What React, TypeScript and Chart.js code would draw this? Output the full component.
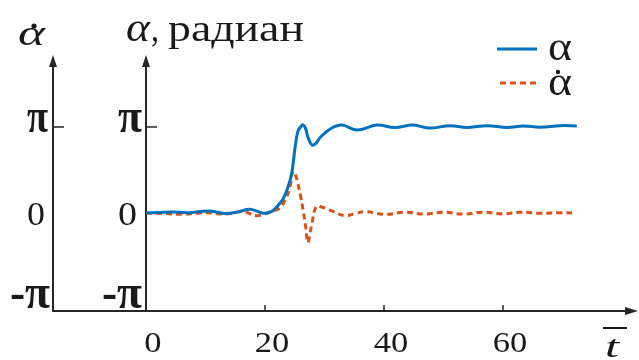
import React, { useEffect, useRef } from "react";
import { Chart, registerables } from "chart.js";

Chart.register(...registerables);

// ---- data ----
const tAlpha = [0, 2, 4.5, 7, 9, 10.8, 13.3, 15.5, 17.5, 19.7, 21, 22, 23, 23.8, 24.5, 25, 25.5, 26, 26.4, 26.8, 27.2, 27.9, 28.6, 29.2, 30.9, 32.9, 35.5, 38.8, 41.8, 44.9, 47.7, 51.1, 53.9, 57.3, 60.7, 63.4, 66.2, 69.6, 72.4];
const alpha = [0, 0.02, 0.04, 0.01, 0.05, 0.07, -0.02, 0.04, 0.14, -0.01, 0.04, 0.23, 0.5, 0.9, 1.46, 2.3, 2.96, 3.15, 3.22, 3.1, 2.78, 2.48, 2.55, 2.74, 3.06, 3.21, 3.03, 3.21, 3.12, 3.21, 3.1, 3.19, 3.12, 3.19, 3.12, 3.18, 3.13, 3.19, 3.18];

const tDot = [0, 3, 6.2, 8.5, 10.3, 13.3, 16.3, 18.7, 21.3, 22.3, 23.4, 24.2, 24.7, 25.1, 25.5, 26, 26.4, 26.8, 27.2, 27.6, 27.9, 28.6, 29.5, 30.4, 31.5, 33.4, 35.2, 36.8, 40.2, 43.5, 46.9, 49.9, 53.3, 56.6, 60, 62.9, 66.2, 69.6, 72.1];
const alphaDot = [0, -0.02, -0.05, -0.01, 0.01, -0.04, 0.05, -0.1, 0.08, 0.15, 0.47, 0.96, 1.52, 1.4, 1.1, 0.6, 0.11, -0.45, -1.08, -0.7, -0.37, 0.23, 0.22, 0.15, 0.05, -0.1, -0.02, 0.05, -0.05, 0.03, -0.04, 0.03, -0.04, 0.03, -0.03, 0.03, -0.01, 0.01, 0];

const xTicks = [0, 20, 40, 60];
const yTicks = [Math.PI, 0, -Math.PI];
const yTickLabels = ["π", "0", "-π"];
const seriesLabels = ["α", "α"];

const X_MIN = -15.63;
const X_MAX = 82.69;
const Y_MIN = -3.58;
const Y_MAX = 5.77;

const BLUE = "#0072BD";
const ORANGE = "#D95319";
const AXIS = "#262626";
const TEXT = "#1a1a1a";
const SERIF = '"Liberation Serif", "Times New Roman", serif';

function fitText(
  ctx: CanvasRenderingContext2D,
  text: string,
  x: number,
  baseline: number,
  font: string,
  width: number,
  align: "left" | "right" | "center"
) {
  ctx.save();
  ctx.font = font;
  ctx.fillStyle = TEXT;
  ctx.textBaseline = "alphabetic";
  ctx.textAlign = "left";
  const w = ctx.measureText(text).width || 1;
  const sx = width / w;
  let left = x;
  if (align === "right") left = x - width;
  if (align === "center") left = x - width / 2;
  ctx.translate(left, baseline);
  ctx.scale(sx, 1);
  ctx.fillText(text, 0, 0);
  ctx.restore();
}

function arrowUp(ctx: CanvasRenderingContext2D, x: number, bottom: number, top: number) {
  ctx.beginPath();
  ctx.moveTo(x, bottom);
  ctx.lineTo(x, top + 8);
  ctx.stroke();
  ctx.beginPath();
  ctx.moveTo(x, top);
  ctx.lineTo(x - 4, top + 12);
  ctx.lineTo(x + 4, top + 12);
  ctx.closePath();
  ctx.fill();
}

const axesPlugin = {
  id: "customAxes",
  beforeDatasetsDraw(chart: any) {
    const ctx: CanvasRenderingContext2D = chart.ctx;
    const { left, right, top, bottom } = chart.chartArea;
    const xs = chart.scales.x;
    const ys = chart.scales.y;
    const x0 = xs.getPixelForValue(0);
    ctx.save();
    ctx.strokeStyle = AXIS;
    ctx.fillStyle = AXIS;
    ctx.lineWidth = 2;
    arrowUp(ctx, left, bottom + 1, top);
    arrowUp(ctx, x0, bottom + 1, top);
    ctx.beginPath();
    ctx.moveTo(left - 1, bottom);
    ctx.lineTo(right - 8, bottom);
    ctx.stroke();
    ctx.beginPath();
    ctx.moveTo(right, bottom);
    ctx.lineTo(right - 13, bottom - 4);
    ctx.lineTo(right - 13, bottom + 4);
    ctx.closePath();
    ctx.fill();
    ctx.lineWidth = 1.5;
    const yPi = ys.getPixelForValue(Math.PI);
    [left, x0].forEach((ax) => {
      ctx.beginPath();
      ctx.moveTo(ax, yPi);
      ctx.lineTo(ax + 11, yPi);
      ctx.stroke();
    });
    xTicks.forEach((v) => {
      if (v === 0) return;
      const px = xs.getPixelForValue(v);
      ctx.beginPath();
      ctx.moveTo(px, bottom);
      ctx.lineTo(px, bottom - 6);
      ctx.stroke();
    });
    ctx.restore();
  },
  afterDraw(chart: any) {
    const ctx: CanvasRenderingContext2D = chart.ctx;
    const { left, bottom } = chart.chartArea;
    const xs = chart.scales.x;
    const ys = chart.scales.y;
    const x0 = xs.getPixelForValue(0);

    yTicks.forEach((v, i) => {
      const lab = yTickLabels[i];
      const py = ys.getPixelForValue(v);
      if (lab === "0") {
        fitText(ctx, lab, left - 8, py + 12, `34px ${SERIF}`, 18, "right");
        fitText(ctx, lab, x0 - 9, py + 12, `34px ${SERIF}`, 19, "right");
      } else if (lab === "π") {
        fitText(ctx, lab, left - 5, py + 5, `bold 48px ${SERIF}`, 21, "right");
        fitText(ctx, lab, x0 - 4, py + 5, `bold 48px ${SERIF}`, 24, "right");
      } else {
        fitText(ctx, lab, left - 3, py + 9, `bold 48px ${SERIF}`, 40, "right");
        fitText(ctx, lab, x0 - 4, py + 9, `bold 48px ${SERIF}`, 40, "right");
      }
    });

    xTicks.forEach((v) => {
      const px = xs.getPixelForValue(v);
      const txt = String(v);
      ctx.save();
      ctx.font = `30px ${SERIF}`;
      const w = ctx.measureText(txt).width * 1.15;
      ctx.restore();
      fitText(ctx, txt, px + 7, bottom + 41, `30px ${SERIF}`, w, "center");
    });

    fitText(ctx, "t", 605, bottom + 46, `italic 32px ${SERIF}`, 14, "left");
    ctx.save();
    ctx.strokeStyle = TEXT;
    ctx.lineWidth = 2;
    ctx.beginPath();
    ctx.moveTo(603, bottom + 17);
    ctx.lineTo(627, bottom + 17);
    ctx.stroke();
    ctx.restore();

    fitText(ctx, "α", 18, 45, `italic 36px ${SERIF}`, 27, "left");
    ctx.save();
    ctx.fillStyle = TEXT;
    ctx.beginPath();
    ctx.arc(34, 26, 2.6, 0, Math.PI * 2);
    ctx.fill();
    ctx.restore();
    fitText(ctx, "α", 126, 41, `italic 40px ${SERIF}`, 24, "left");
    fitText(ctx, ",", 151, 41, `38px ${SERIF}`, 8, "left");
    fitText(ctx, "радиан", 168, 41, `38px ${SERIF}`, 136, "left");

    ctx.save();
    ctx.lineWidth = 3;
    ctx.strokeStyle = BLUE;
    ctx.beginPath();
    ctx.moveTo(497, 49);
    ctx.lineTo(537, 49);
    ctx.stroke();
    ctx.strokeStyle = ORANGE;
    ctx.setLineDash([6, 4]);
    ctx.beginPath();
    ctx.moveTo(500, 83);
    ctx.lineTo(538, 83);
    ctx.stroke();
    ctx.restore();
    fitText(ctx, seriesLabels[0], 548, 60, `40px ${SERIF}`, 24, "left");
    fitText(ctx, seriesLabels[1], 548, 95, `40px ${SERIF}`, 24, "left");
    ctx.save();
    ctx.fillStyle = TEXT;
    ctx.beginPath();
    ctx.arc(558, 72, 2.2, 0, Math.PI * 2);
    ctx.fill();
    ctx.restore();
  },
};

export default function App() {
  const ref = useRef<HTMLCanvasElement | null>(null);
  useEffect(() => {
    if (!ref.current) return;
    const chart = new Chart(ref.current, {
      type: "line",
      data: {
        datasets: [
          {
            label: "α",
            data: tAlpha.map((t, i) => ({ x: t, y: alpha[i] })),
            borderColor: BLUE,
            borderWidth: 3,
            pointRadius: 0,
            tension: 0.4,
            fill: false,
            yAxisID: "y",
          },
          {
            label: "α̇",
            data: tDot.map((t, i) => ({ x: t, y: alphaDot[i] })),
            borderColor: ORANGE,
            borderWidth: 3,
            borderDash: [6, 4],
            pointRadius: 0,
            tension: 0.4,
            fill: false,
            yAxisID: "yd",
          },
        ],
      },
      options: {
        responsive: false,
        animation: false,
        events: [],
        layout: { padding: { left: 53, right: 1, top: 55, bottom: 49 } },
        plugins: { legend: { display: false }, tooltip: { enabled: false }, title: { display: false } },
        scales: {
          x: { type: "linear", min: X_MIN, max: X_MAX, display: false },
          y: { type: "linear", min: Y_MIN, max: Y_MAX, display: false },
          yd: { type: "linear", min: Y_MIN, max: Y_MAX, display: false },
        },
      },
      plugins: [axesPlugin],
    });
    return () => chart.destroy();
  }, []);
  return (
    <div style={{ position: "fixed", left: 0, top: 0, width: 639, height: 360, background: "#fff" }}>
      <canvas ref={ref} width={639} height={360} />
    </div>
  );
}
